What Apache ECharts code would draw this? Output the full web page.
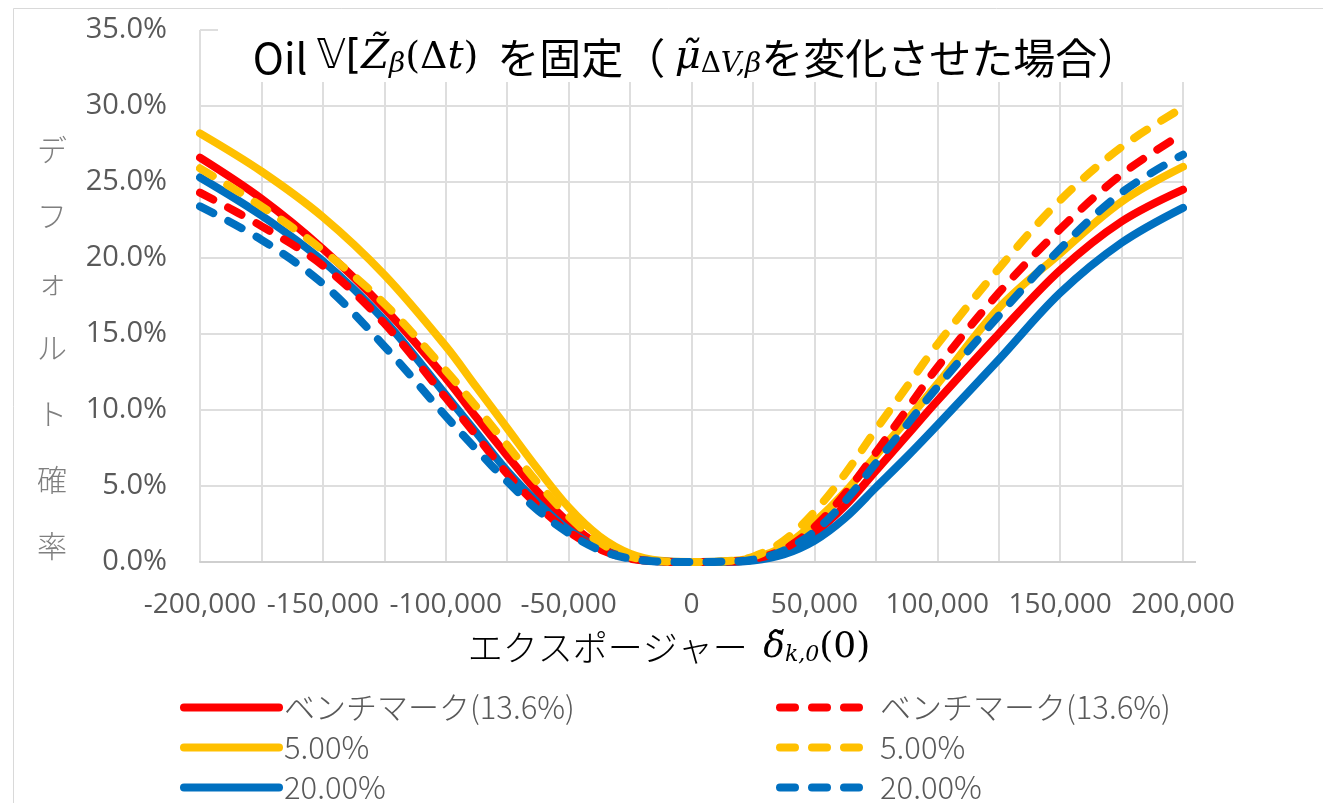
<!DOCTYPE html>
<html>
<head>
<meta charset="utf-8">
<script src="https://cdn.jsdelivr.net/npm/echarts@6/dist/echarts.min.js"></script>
<style>
  html, body { margin: 0; padding: 0; background: #ffffff; }
  #chart { width: 1323px; height: 803px; }
</style>
</head>
<body>
<div id="chart"></div>
<script>
// Exposure δ̃k,0(0) sample points
const exposure = [-200000, -175000, -150000, -125000, -100000, -87500, -75000, -62500, -50000, -37500, -25000, -12500, 0,
                  12500, 25000, 37500, 50000, 62500, 75000, 87500, 100000, 125000, 150000, 175000, 200000];

// Default probability (%) — solid lines
const benchSolid = [26.6, 23.9, 20.6, 16.7, 12.1, 9.5, 7.0, 4.6, 2.6, 1.1, 0.3, 0.04, 0,
                    0.02, 0.15, 0.7, 1.9, 3.7, 6.0, 8.3, 10.6, 15.0, 19.2, 22.4, 24.5];
const mu5Solid   = [28.2, 25.7, 22.7, 18.9, 14.2, 11.5, 8.8, 6.1, 3.6, 1.7, 0.55, 0.08, 0,
                    0.03, 0.25, 1.0, 2.6, 4.6, 7.0, 9.3, 11.7, 16.7, 20.3, 23.7, 26.0];
const mu20Solid  = [25.3, 22.8, 19.8, 15.9, 11.0, 8.5, 6.0, 3.9, 2.1, 0.9, 0.25, 0.03, 0,
                    0.01, 0.1, 0.5, 1.4, 2.9, 4.9, 6.9, 9.0, 13.3, 17.7, 21.0, 23.3];

// Default probability (%) — dashed lines
const benchDash  = [24.3, 22.1, 19.5, 15.7, 10.8, 8.3, 5.8, 3.7, 2.0, 0.85, 0.22, 0.03, 0,
                    0.02, 0.18, 0.85, 2.3, 4.5, 7.2, 10.0, 12.8, 17.7, 21.9, 25.5, 28.2];
const mu5Dash    = [25.9, 23.4, 20.5, 17.0, 12.6, 10.2, 7.7, 5.2, 3.0, 1.3, 0.35, 0.05, 0,
                    0.04, 0.35, 1.4, 3.3, 5.8, 8.7, 11.5, 14.3, 19.3, 23.8, 27.3, 29.9];
const mu20Dash   = [23.4, 21.2, 18.3, 14.2, 9.6, 7.4, 5.3, 3.4, 1.9, 0.8, 0.22, 0.03, 0,
                    0.02, 0.15, 0.75, 2.0, 4.0, 6.5, 9.0, 11.5, 16.2, 20.6, 24.3, 26.8];

const legendLabels = {
  bench: 'ベンチマーク(13.6%)', mu5: '5.00%', mu20: '20.00%',
  benchD: 'ベンチマーク(13.6%)', mu5D: '5.00%', mu20D: '20.00%'
};

const RED = '#ff0000', GOLD = '#ffc000', BLUE = '#0070c0';
const DASH = [15, 17];

function pairs(ys) { return exposure.map((x, i) => [x, ys[i]]); }

function lineSeries(name, ys, color, dashed) {
  return {
    name: name,
    type: 'line',
    data: pairs(ys),
    symbol: 'none',
    showSymbol: false,
    smooth: 0.35,
    clip: true,
    lineStyle: { color: color, width: 8, cap: 'round', join: 'round', type: dashed ? DASH : 'solid' },
    itemStyle: { color: color },
    emphasis: { disabled: true }
  };
}

const chart = echarts.init(document.getElementById('chart'), null, { renderer: 'canvas' });

const TICK_FONT = "'Open Sans', 'Noto Sans', sans-serif";
const JP_FONT = "'Noto Sans CJK JP', 'Noto Sans', sans-serif";
const MATH_FONT = "'DejaVu Serif', 'Liberation Serif', serif";

const legendCommon = {
  orient: 'vertical', top: 692, height: 300, padding: 0,
  itemWidth: 95, itemHeight: 14, itemGap: 9,
  selectedMode: false,
  formatter: n => legendLabels[n],
  itemStyle: { opacity: 0 },
  textStyle: { color: '#595959', fontSize: 31, lineHeight: 26, fontFamily: JP_FONT, fontWeight: 300 }
};

chart.setOption({
  animation: false,
  backgroundColor: '#ffffff',
  grid: { left: 200, right: 140, top: 30, bottom: 241, containLabel: false },
  xAxis: {
    type: 'value',
    min: -200000, max: 200000, interval: 25000,
    axisLine: { show: true, onZero: false, lineStyle: { color: '#cfcfcf', width: 2 } },
    axisTick: { show: false },
    splitLine: { show: true, lineStyle: { color: '#dedede', width: 2 } },
    axisLabel: {
      margin: 29,
      color: '#595959', fontSize: 28, fontFamily: TICK_FONT,
      formatter: v => (v % 50000 === 0 ? v.toLocaleString('en-US') : '')
    }
  },
  yAxis: {
    type: 'value',
    min: 0, max: 35, interval: 5,
    axisLine: { show: false },
    axisTick: { show: false },
    splitLine: { show: true, lineStyle: { color: '#dedede', width: 2 } },
    axisLabel: {
      margin: 33,
      color: '#595959', fontSize: 29, fontFamily: TICK_FONT,
      formatter: v => v.toFixed(1) + '%'
    }
  },
  legend: [
    Object.assign({}, legendCommon, {
      data: ['bench', 'mu5', 'mu20'], left: 180,
      lineStyle: { width: 8, cap: 'round', type: 'solid' }
    }),
    Object.assign({}, legendCommon, {
      data: ['benchD', 'mu5D', 'mu20D'], left: 776,
      lineStyle: { width: 8, cap: 'round', type: DASH }
    })
  ],
  series: [
    lineSeries('bench', benchSolid, RED, false),
    lineSeries('mu5', mu5Solid, GOLD, false),
    lineSeries('mu20', mu20Solid, BLUE, false),
    lineSeries('benchD', benchDash, RED, true),
    lineSeries('mu5D', mu5Dash, GOLD, true),
    lineSeries('mu20D', mu20Dash, BLUE, true)
  ],
  graphic: [
    // outer frame
    { type: 'rect', z: 0, silent: true,
      shape: { x: 13.5, y: 8.5, width: 1400, height: 900 },
      style: { fill: 'none', stroke: '#d9d9d9', lineWidth: 1 } },
    // axis line runs a little past the last gridline
    { type: 'line', z: 1, silent: true,
      shape: { x1: 1183, y1: 562, x2: 1196, y2: 562 },
      style: { stroke: '#cfcfcf', lineWidth: 2 } },
    // title box
    { type: 'rect', z: 100, silent: true,
      shape: { x: 218, y: 20, width: 974, height: 62 },
      style: { fill: '#ffffff' } },
    { type: 'text', z: 101, silent: true,
      x: 696, y: 58,
      style: {
        text: '{s|Oil }{dbl|𝕍[}{mi|Z̃}{sub|β}{m|(Δ}{mi|t}{m|)}{s|  を固定（ }{mi|μ̃}{subu|Δ}{sub|V,β}{s|を変化させた場合）}',
        align: 'center', verticalAlign: 'middle',
        rich: {
          s:   { fontFamily: JP_FONT, fontSize: 42, color: '#111111' },
          dbl: { fontFamily: "'DejaVu Sans', 'DejaVu Serif', serif", fontSize: 40, color: '#555555' },
          m:   { fontFamily: MATH_FONT, fontSize: 38, color: '#555555' },
          mi:  { fontFamily: MATH_FONT, fontStyle: 'italic', fontSize: 40, color: '#555555' },
          sub: { fontFamily: MATH_FONT, fontStyle: 'italic', fontSize: 28, color: '#555555', verticalAlign: 'bottom' },
          subu:{ fontFamily: MATH_FONT, fontSize: 28, color: '#555555', verticalAlign: 'bottom' }
        }
      } },
    // x-axis title
    { type: 'text', z: 101, silent: true,
      x: 669, y: 648,
      style: {
        text: '{j|エクスポージャー  }{mi|δ̃}{sub|k,0}{m|(0)}',
        align: 'center', verticalAlign: 'middle',
        rich: {
          j:   { fontFamily: JP_FONT, fontSize: 35, fontWeight: 300, color: '#595959' },
          mi:  { fontFamily: MATH_FONT, fontStyle: 'italic', fontSize: 36, color: '#595959' },
          m:   { fontFamily: MATH_FONT, fontSize: 36, color: '#595959' },
          sub: { fontFamily: MATH_FONT, fontStyle: 'italic', fontSize: 22, color: '#595959', verticalAlign: 'bottom' }
        }
      } },
    // y-axis title (vertical)
    { type: 'text', z: 101, silent: true,
      x: 52, y: 117,
      style: {
        text: 'デ\nフ\nォ\nル\nト\n確\n率',
        align: 'center', verticalAlign: 'top',
        fontFamily: JP_FONT, fontSize: 30, fontWeight: 300, lineHeight: 66,
        fill: '#7f7f7f'
      } }
  ]
});
</script>
</body>
</html>
